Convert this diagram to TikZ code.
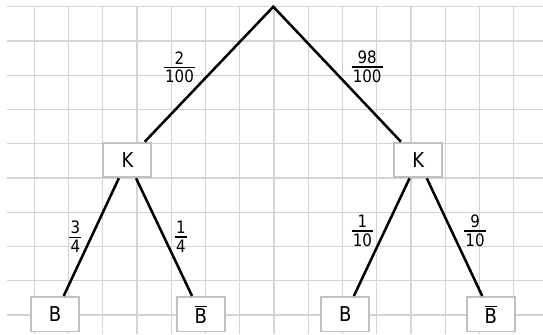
\documentclass[tikz,border=0pt]{standalone}
\usepackage{amsmath}
\usepackage{fontspec}
\setmainfont{DejaVu Sans}[FakeStretch=0.88]
\usepackage{tikz}
\usetikzlibrary{positioning, calc}
\definecolor{gridgray}{HTML}{D4D4D4}
\definecolor{boxgray}{HTML}{C0C0C0}
\newcommand{\pfrac}[2]{\vbox{\halign{\hfil\kern1pt##\kern1pt\hfil\cr #1\cr\noalign{\kern2pt\hrule height 1.1pt\kern1.6pt}#2\cr}}}
\tikzset{
    outcome/.style={rectangle, draw=boxgray, line width=1.6pt, fill=white, minimum width=1.40cm, minimum height=1.01cm, inner sep=0pt, font=\fontsize{17}{20}\selectfont},
    prob/.style={inner sep=0pt, font=\fontsize{14.2}{16}\selectfont},
    branch/.style={line width=2.1pt, black, line join=miter}
}

\begin{document}
\begin{tikzpicture}
    \useasboundingbox (0,0) rectangle (15.854,9.752);
    \foreach \y in {0,...,9} \draw[gridgray, line width=1pt] (0.2,0.556+\y) -- (15.854,0.556+\y);
    \foreach \x in {1,...,15} \draw[gridgray, line width=1pt] (\x,0) -- (\x,9.556);

    \coordinate (root) at (7.98,9.556);
    \node[outcome] (kl) at (3.72,5.08) {K};
    \node[outcome] (kr) at (12.21,5.08) {K};
    \node[outcome] (bl) at (1.61,0.578) {B};
    \node[outcome] (nbl) at (5.86,0.578) {$\overline{\text{B}}$};
    \node[outcome] (br) at (10.08,0.578) {B};
    \node[outcome] (nbr) at (14.33,0.578) {$\overline{\text{B}}$};

    \draw[branch] (kl) -- (root) -- (kr);
    \draw[branch] (kl) -- (bl);
    \draw[branch] (kl) -- (nbl);
    \draw[branch] (kr) -- (br);
    \draw[branch] (kr) -- (nbr);

    \node[prob] (pkl) at (5.24,7.79) {\pfrac{2}{100}};
    \node[prob] (pkr) at (10.72,7.80) {\pfrac{98}{100}};
    \node[prob] (pbl) at (2.20,2.84) {\pfrac{3}{4}};
    \node[prob] (pnbl) at (5.28,2.84) {\pfrac{1}{4}};
    \node[prob] (pbr) at (10.58,3.01) {\pfrac{1}{10}};
    \node[prob] (pnbr) at (13.87,3.01) {\pfrac{9}{10}};
\end{tikzpicture}
\end{document}
